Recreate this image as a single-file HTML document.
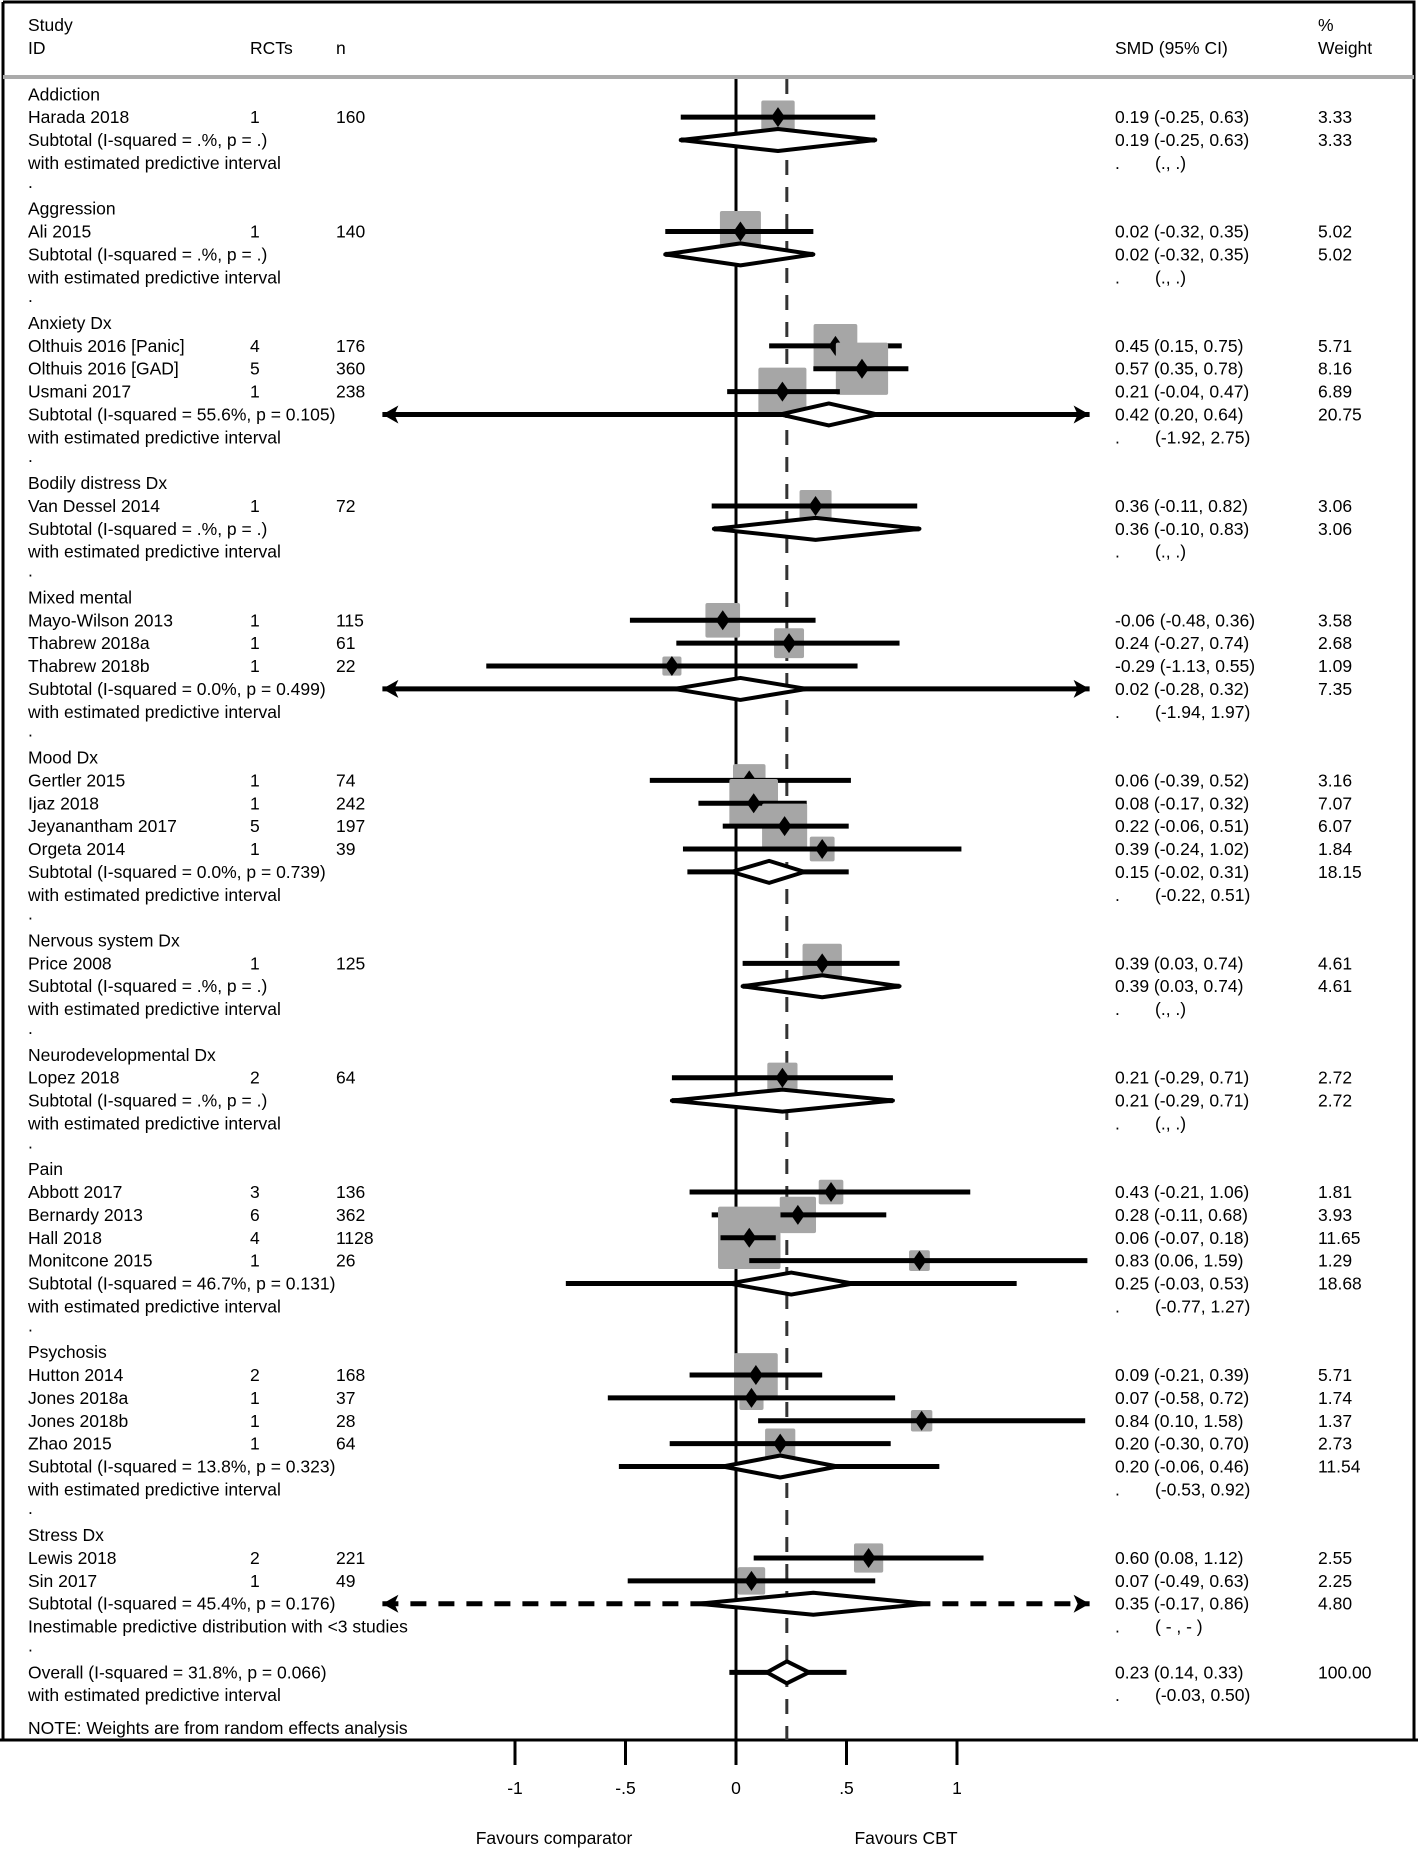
<!DOCTYPE html>
<html><head><meta charset="utf-8"><style>
html,body{margin:0;padding:0;background:#fff;}
svg{display:block;font-family:"Liberation Sans",Arial,sans-serif;}
text{font-size:17.5px;fill:#000;}
</style></head><body>
<svg id="chart" width="1418" height="1849" viewBox="0 0 1418 1849" xmlns="http://www.w3.org/2000/svg"></svg>
<script>
// ---- data ----
const groupNames = ["Addiction","Aggression","Anxiety Dx","Bodily distress Dx","Mixed mental","Mood Dx","Nervous system Dx","Neurodevelopmental Dx","Pain","Psychosis","Stress Dx"];
const studyNames = ["Harada 2018","Ali 2015","Olthuis 2016 [Panic]","Olthuis 2016 [GAD]","Usmani 2017","Van Dessel 2014","Mayo-Wilson 2013","Thabrew 2018a","Thabrew 2018b","Gertler 2015","Ijaz 2018","Jeyanantham 2017","Orgeta 2014","Price 2008","Lopez 2018","Abbott 2017","Bernardy 2013","Hall 2018","Monitcone 2015","Hutton 2014","Jones 2018a","Jones 2018b","Zhao 2015","Lewis 2018","Sin 2017"];
const studyGroup = [0,1,2,2,2,3,4,4,4,5,5,5,5,6,7,8,8,8,8,9,9,9,9,10,10];
const studyRCTs = [1,1,4,5,1,1,1,1,1,1,1,5,1,1,2,3,6,4,1,2,1,1,1,2,1];
const studyN = [160,140,176,360,238,72,115,61,22,74,242,197,39,125,64,136,362,1128,26,168,37,28,64,221,49];
const studyES = [0.19,0.02,0.45,0.57,0.21,0.36,-0.06,0.24,-0.29,0.06,0.08,0.22,0.39,0.39,0.21,0.43,0.28,0.06,0.83,0.09,0.07,0.84,0.20,0.60,0.07];
const studyLo = [-0.25,-0.32,0.15,0.35,-0.04,-0.11,-0.48,-0.27,-1.13,-0.39,-0.17,-0.06,-0.24,0.03,-0.29,-0.21,-0.11,-0.07,0.06,-0.21,-0.58,0.10,-0.30,0.08,-0.49];
const studyHi = [0.63,0.35,0.75,0.78,0.47,0.82,0.36,0.74,0.55,0.52,0.32,0.51,1.02,0.74,0.71,1.06,0.68,0.18,1.59,0.39,0.72,1.58,0.70,1.12,0.63];
const studyW = [3.33,5.02,5.71,8.16,6.89,3.06,3.58,2.68,1.09,3.16,7.07,6.07,1.84,4.61,2.72,1.81,3.93,11.65,1.29,5.71,1.74,1.37,2.73,2.55,2.25];
const subI2 = [".%",".%","55.6%",".%","0.0%","0.0%",".%",".%","46.7%","13.8%","45.4%"];
const subP = [".",".","0.105",".","0.499","0.739",".",".","0.131","0.323","0.176"];
const subES = [0.19,0.02,0.42,0.36,0.02,0.15,0.39,0.21,0.25,0.20,0.35];
const subLo = [-0.25,-0.32,0.20,-0.10,-0.28,-0.02,0.03,-0.29,-0.03,-0.06,-0.17];
const subHi = [0.63,0.35,0.64,0.83,0.32,0.31,0.74,0.71,0.53,0.46,0.86];
const subW = [3.33,5.02,20.75,3.06,7.35,18.15,4.61,2.72,18.68,11.54,4.80];
const piLo = [null,null,-1.92,null,-1.94,-0.22,null,null,-0.77,-0.53,null];
const piHi = [null,null,2.75,null,1.97,0.51,null,null,1.27,0.92,null];
const overallES = 0.23, overallLo = 0.14, overallHi = 0.33, overallPiLo = -0.03, overallPiHi = 0.50;
const tickVals = [-1,-0.5,0,0.5,1];
const tickLabels = ["-1","-.5","0",".5","1"];

// ---- scales ----
const X0 = 736, UNIT = 221, XMIN = -1.6, XMAX = 1.6;
const xs = v => X0 + v * UNIT;
const rowY = i => 94.3 + i * 22.87;
const svg = document.getElementById('chart');
const NS = "http://www.w3.org/2000/svg";
function mk(tag, attrs, parent) {
  const e = document.createElementNS(NS, tag);
  for (const k in attrs) e.setAttribute(k, attrs[k]);
  (parent || svg).appendChild(e);
  return e;
}
function txt(x, y, s, name, anchor) {
  const t = mk('text', {x: x, y: y + 6});
  if (anchor) t.setAttribute('text-anchor', anchor);
  t.textContent = s;
  
  
  return t;
}
const f2 = v => v.toFixed(2);

// frame
const frame = mk('path', {d: "M3 2 H1414 V1740 M3 2 V1740 M0 1740 H1418", fill: "none", stroke: "#000", "stroke-width": 3});


const sep = mk('line', {x1: 3, x2: 1414, y1: 77, y2: 77, stroke: "#aaa", "stroke-width": 4});



// headers
txt(28, 25, "Study", 'header-study');
txt(28, 48, "ID", 'header-id');
txt(250, 48, "RCTs", 'header-rcts');
txt(336, 48, "n", 'header-n');
txt(1115, 48, "SMD (95% CI)", 'header-smd');
txt(1318, 25, "%", 'header-percent');
txt(1318, 48, "Weight", 'header-weight');

// reference lines
const zl = mk('line', {x1: xs(0), x2: xs(0), y1: 79, y2: 1740, stroke: "#000", "stroke-width": 3});


const dl = mk('line', {x1: xs(overallES), x2: xs(overallES), y1: 79, y2: 1740, stroke: "#333", "stroke-width": 3, "stroke-dasharray": "15 12"});



function arrowHead(x, y, dir) {
  const p = mk('path', {d: `M${x} ${y} L${x - dir * 16} ${y - 9} L${x - dir * 12} ${y} L${x - dir * 16} ${y + 9} Z`, fill: "#000"});
  
  
}
function piLine(lo, hi, y, dashed, name) {
  const a = Math.max(lo, XMIN), b = Math.min(hi, XMAX);
  const l = mk('line', {x1: xs(a), x2: xs(b), y1: y, y2: y, stroke: "#000", "stroke-width": 5});
  if (dashed) l.setAttribute('stroke-dasharray', '16 12');
  
  
  if (lo < XMIN) arrowHead(xs(XMIN), y, -1);
  if (hi > XMAX) arrowHead(xs(XMAX), y, 1);
}
function diamond(es, lo, hi, y, name) {
  const d = mk('path', {d: `M${xs(lo)} ${y} L${xs(es)} ${y - 11} L${xs(hi)} ${y} L${xs(es)} ${y + 11} Z`, fill: "#fff", stroke: "#000", "stroke-width": 4, "stroke-linejoin": "round"});
  
  
}

let row = 0;
groupNames.forEach((g, gi) => {
  txt(28, rowY(row), g, 'group-label');
  row++;
  studyNames.forEach((s, si) => {
    if (studyGroup[si] !== gi) return;
    const y = rowY(row);
    txt(28, y, s, 'study-label');
    txt(250, y, String(studyRCTs[si]), 'study-rcts');
    txt(336, y, String(studyN[si]), 'study-n');
    txt(1115, y, `${f2(studyES[si])} (${f2(studyLo[si])}, ${f2(studyHi[si])})`, 'study-smd');
    txt(1318, y, f2(studyW[si]), 'study-weight');
    const side = Math.sqrt(studyW[si]) * 18.3;
    const sq = mk('rect', {x: xs(studyES[si]) - side / 2, y: y - side / 2, width: side, height: side, rx: 2, fill: "#a6a6a6"});
    
    
    const ci = mk('line', {x1: xs(Math.max(studyLo[si], XMIN)), x2: xs(Math.min(studyHi[si], XMAX)), y1: y, y2: y, stroke: "#000", "stroke-width": 5});
    
    
    const m = mk('path', {d: `M${xs(studyES[si]) - 7} ${y} L${xs(studyES[si])} ${y - 10} L${xs(studyES[si]) + 7} ${y} L${xs(studyES[si])} ${y + 10} Z`, fill: "#000"});
    
    
    row++;
  });
  const y = rowY(row);
  txt(28, y, `Subtotal  (I-squared = ${subI2[gi]}, p = ${subP[gi]})`, 'subtotal-label');
  txt(1115, y, `${f2(subES[gi])} (${f2(subLo[gi])}, ${f2(subHi[gi])})`, 'subtotal-smd');
  txt(1318, y, f2(subW[gi]), 'subtotal-weight');
  if (gi === 10) {
    piLine(-9, 9, y, true, 'subtotal-pi-line');
  } else if (piLo[gi] === null) {
    piLine(subLo[gi], subHi[gi], y, false, 'subtotal-pi-line');
  } else {
    piLine(piLo[gi], piHi[gi], y, false, 'subtotal-pi-line');
  }
  diamond(subES[gi], subLo[gi], subHi[gi], y, 'subtotal-diamond');
  row++;
  const y2 = rowY(row);
  if (gi === 10) {
    txt(28, y2, "Inestimable predictive distribution with <3 studies", 'pi-label');
    txt(1115, y2, ".", 'pi-dot');
    txt(1155, y2, "( -  ,  - )", 'pi-value');
  } else {
    txt(28, y2, "with estimated predictive interval", 'pi-label');
    txt(1115, y2, ".", 'pi-dot');
    txt(1155, y2, piLo[gi] === null ? "(.,  .)" : `(${f2(piLo[gi])}, ${f2(piHi[gi])})`, 'pi-value');
  }
  row++;
  txt(28, rowY(row) - 4, ".", 'group-spacer');
  row++;
});

// overall
const yo = rowY(row);
txt(28, yo, "Overall  (I-squared = 31.8%, p = 0.066)", 'overall-label');
txt(1115, yo, `${f2(overallES)} (${f2(overallLo)}, ${f2(overallHi)})`, 'overall-smd');
txt(1318, yo, "100.00", 'overall-weight');
piLine(overallPiLo, overallPiHi, yo, false, 'overall-pi-line');
diamond(overallES, overallLo, overallHi, yo, 'overall-diamond');
row++;
const yw = rowY(row);
txt(28, yw, "with estimated predictive interval", 'overall-pi-label');
txt(1115, yw, ".", 'overall-pi-dot');
txt(1155, yw, `(${f2(overallPiLo)}, ${f2(overallPiHi)})`, 'overall-pi-value');
txt(28, 1728, "NOTE: Weights are from random effects analysis", 'note');

// axis ticks
tickVals.forEach((v, i) => {
  const t = mk('line', {x1: xs(v), x2: xs(v), y1: 1740, y2: 1765, stroke: "#000", "stroke-width": 3});
  
  
  txt(xs(v), 1788, tickLabels[i], 'x-tick-label', 'middle');
});
txt(554, 1838, "Favours comparator", 'favours-comparator-label', 'middle');
txt(906, 1838, "Favours CBT", 'favours-cbt-label', 'middle');
</script>
</body></html>
